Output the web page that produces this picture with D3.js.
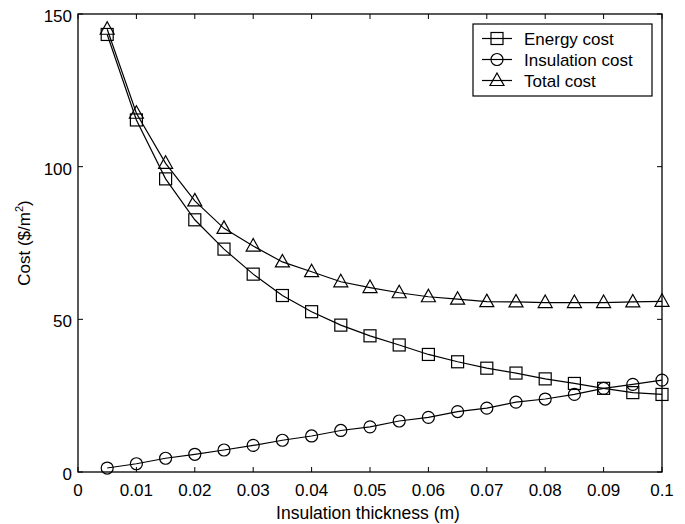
<!DOCTYPE html>
<html><head><meta charset="utf-8">
<script src="https://cdn.jsdelivr.net/npm/d3@7"></script>
<style>body{margin:0;background:#fff}svg{display:block}text{font-family:"Liberation Sans",Arial,sans-serif;fill:#000}</style>
</head><body><svg id="c" width="685" height="524"></svg>
<script>
const thickness = [0.005,0.01,0.015,0.02,0.025,0.03,0.035,0.04,0.045,0.05,0.055,0.06,0.065,0.07,0.075,0.08,0.085,0.09,0.095,0.1];
const energyCost = [143.3,115.3,96.0,82.6,73.0,64.8,57.8,52.5,48.1,44.6,41.6,38.5,36.1,34.0,32.4,30.5,29.0,27.4,26.0,25.4];
const insulationCost = [1.3,2.7,4.5,5.8,7.2,8.7,10.4,11.8,13.6,14.8,16.7,17.9,19.8,20.9,22.9,23.9,25.4,27.4,28.7,30.1];
const totalCost = [145.0,117.5,101.1,88.8,79.8,74.0,68.8,65.6,62.3,60.4,58.7,57.4,56.6,55.8,55.7,55.5,55.5,55.5,55.7,55.9];
const xTicks = [0,0.01,0.02,0.03,0.04,0.05,0.06,0.07,0.08,0.09,0.1];
const xTickLabels = ["0","0.01","0.02","0.03","0.04","0.05","0.06","0.07","0.08","0.09","0.1"];
const yTicks = [0,50,100,150];
const seriesNames = ["Energy cost","Insulation cost","Total cost"];
const seriesMarkers = ["square","circle","triangle"];

const svg = d3.select("#c");
const L=78,R=662,T=14,B=472;
const x = d3.scaleLinear().domain([0,0.1]).range([L,R]);
const y = d3.scaleLinear().domain([0,150]).range([B,T]);

svg.append("rect").attr("x",L).attr("y",T).attr("width",R-L).attr("height",B-T).attr("fill","none").attr("stroke","#000").attr("stroke-width",1.3);

const tl=5;
const g = svg.append("g").attr("font-size",17);
xTicks.forEach((t,i)=>{
  g.append("line").attr("x1",x(t)).attr("x2",x(t)).attr("y1",B).attr("y2",B-tl).attr("stroke","#000");
  g.append("line").attr("x1",x(t)).attr("x2",x(t)).attr("y1",T).attr("y2",T+tl).attr("stroke","#000");
  g.append("text").attr("x",x(t)).attr("y",496).attr("text-anchor","middle").text(xTickLabels[i]);
});
yTicks.forEach(t=>{
  g.append("line").attr("x1",L).attr("x2",L+tl).attr("y1",y(t)).attr("y2",y(t)).attr("stroke","#000");
  g.append("line").attr("x1",R).attr("x2",R-tl).attr("y1",y(t)).attr("y2",y(t)).attr("stroke","#000");
  g.append("text").attr("x",L-6).attr("y",y(t)+8).attr("text-anchor","end").text(t);
});
g.append("text").attr("x",368).attr("y",519).attr("font-size",17.5).attr("text-anchor","middle").text("Insulation thickness (m)");
const yl = g.append("text").attr("transform",`translate(30,${(T+B)/2}) rotate(-90)`).attr("text-anchor","middle");
yl.append("tspan").text("Cost ($/m");
yl.append("tspan").attr("font-size",11).attr("dy",-7).text("2");
yl.append("tspan").attr("dy",7).text(")");

function marker(sel,type,cx,cy){
  if(type==="square") sel.append("rect").attr("x",cx-6).attr("y",cy-6).attr("width",12).attr("height",12);
  else if(type==="circle") sel.append("circle").attr("cx",cx).attr("cy",cy).attr("r",6);
  else sel.append("path").attr("d",`M${cx},${cy-7.5}L${cx+7},${cy+5}L${cx-7},${cy+5}Z`);
}

const allSeries=[energyCost,insulationCost,totalCost];
const line = d3.line().x((d,i)=>x(thickness[i])).y(d=>y(d));
allSeries.forEach((s,k)=>{
  svg.append("path").attr("d",line(s)).attr("fill","none").attr("stroke","#000").attr("stroke-width",1.2);
  const mg = svg.append("g").attr("fill","none").attr("stroke","#000").attr("stroke-width",1.2);
  s.forEach((v,i)=>marker(mg,seriesMarkers[k],x(thickness[i]),y(v)));
});

const lg = svg.append("g");
lg.append("rect").attr("x",473).attr("y",24).attr("width",179).attr("height",72).attr("fill","#fff").attr("stroke","#000").attr("stroke-width",1.2);
seriesNames.forEach((n,k)=>{
  const yy=38.5+k*21;
  lg.append("line").attr("x1",482).attr("x2",512).attr("y1",yy).attr("y2",yy).attr("stroke","#000").attr("stroke-width",1.2);
  const mg=lg.append("g").attr("fill","none").attr("stroke","#000").attr("stroke-width",1.2);
  marker(mg,seriesMarkers[k],497,yy);
  lg.append("text").attr("x",524).attr("y",yy+6).attr("font-size",17).text(n);
});
</script></body></html>
